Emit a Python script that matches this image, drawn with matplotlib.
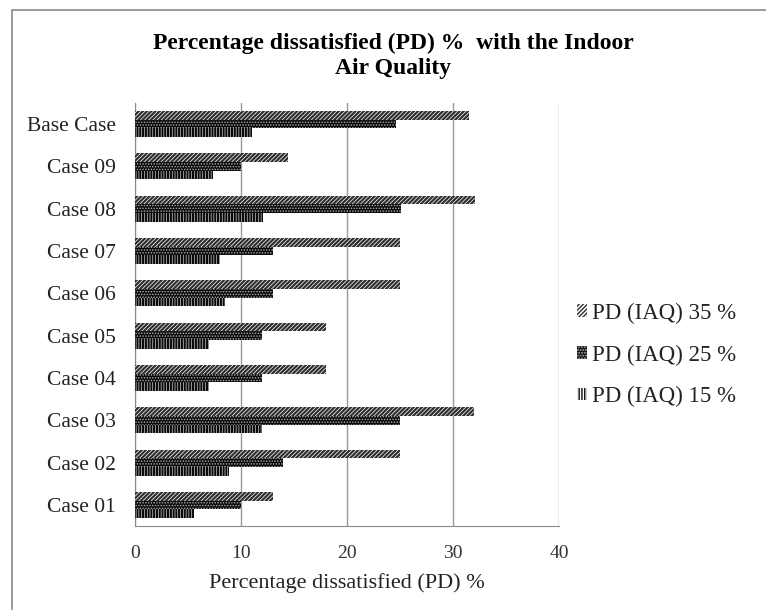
import matplotlib
matplotlib.use("Agg")
import matplotlib.pyplot as plt
import numpy as np
from matplotlib.patches import Rectangle

plt.rcParams["font.family"] = ["Liberation Serif", "DejaVu Serif"]

categories = ["Case 01", "Case 02", "Case 03", "Case 04", "Case 05",
              "Case 06", "Case 07", "Case 08", "Case 09", "Base Case"]
pd_35 = [13.0, 25.0, 32.0, 18.0, 18.0, 25.0, 25.0, 32.1, 14.4, 31.5]
pd_25 = [10.0, 14.0, 25.0, 12.0, 12.0, 13.0, 13.0, 25.1, 10.0, 24.6]
pd_15 = [5.6, 8.9, 12.0, 7.0, 7.0, 8.5, 8.0, 12.1, 7.4, 11.0]
series_labels = ["PD (IAQ) 35 %", "PD (IAQ) 25 %", "PD (IAQ) 15 %"]
x_ticks = [0, 10, 20, 30, 40]

fig = plt.figure(figsize=(7.66, 6.10), dpi=100)
ax = fig.add_axes([135 / 766, 1 - 526 / 610, (559 - 135) / 766, (526 - 103) / 610])

# outer chart frame (left and top edges visible)
fig.patches.append(Rectangle((12 / 766, -0.05), 1.5, 1.05 - 10 / 610,
                             transform=fig.transFigure, fill=False,
                             edgecolor="#8a8a8a", linewidth=1.2))

y = np.arange(len(categories))
h = 0.205

with plt.rc_context({"hatch.linewidth": 1.6}):
    b35 = ax.barh(y + h, pd_35, height=h, facecolor="white", edgecolor="#2e2e2e",
                  hatch="////////", linewidth=0, label=series_labels[0], zorder=3)
with plt.rc_context({"hatch.linewidth": 0.7}):
    b25 = ax.barh(y, pd_25, height=h, facecolor="#0a0a0a", edgecolor="#b0b0b0",
                  hatch="......", linewidth=0, label=series_labels[1], zorder=3)
with plt.rc_context({"hatch.linewidth": 1.6}):
    b15 = ax.barh(y - h, pd_15, height=h, facecolor="white", edgecolor="#0a0a0a",
                  hatch="||||||", linewidth=0, label=series_labels[2], zorder=3)

ax.set_xlim(0, 40)
ax.set_ylim(-0.5, len(categories) - 0.5)
ax.set_xticks(x_ticks)
ax.set_xticklabels([str(t) for t in x_ticks], fontsize=14, color="#333333")
ax.set_yticks(y)
ax.set_yticklabels(categories, fontsize=15.5, color="#222222")
ax.tick_params(axis="both", length=0)
ax.tick_params(axis="x", pad=14)
ax.tick_params(axis="y", pad=14)
ax.xaxis.grid(True, color="#9a9a9a", linewidth=1.0, zorder=0)
ax.set_axisbelow(True)
for side in ["top", "right"]:
    ax.spines[side].set_visible(False)
ax.spines["left"].set_color("#8a8a8a")
ax.spines["bottom"].set_color("#8a8a8a")

ax.set_xlabel("Percentage dissatisfied (PD) %", fontsize=16, labelpad=8,
              color="#222222")

fig.text(0.513, 1 - 56 / 610, "Percentage dissatisfied (PD) %  with the Indoor\nAir Quality",
         ha="center", va="center", fontsize=17, fontweight="bold",
         linespacing=1.22)

leg = ax.legend(handles=[b35, b25, b15], labels=series_labels,
                loc="center left", bbox_to_anchor=(556 / 766, 1 - 355 / 610),
                bbox_transform=fig.transFigure, frameon=False, fontsize=16.5,
                handlelength=0.45, handleheight=0.45, handletextpad=0.2,
                labelspacing=0.9)
for t in leg.get_texts():
    t.set_color("#222222")

fig.savefig("out.png", dpi=100)
